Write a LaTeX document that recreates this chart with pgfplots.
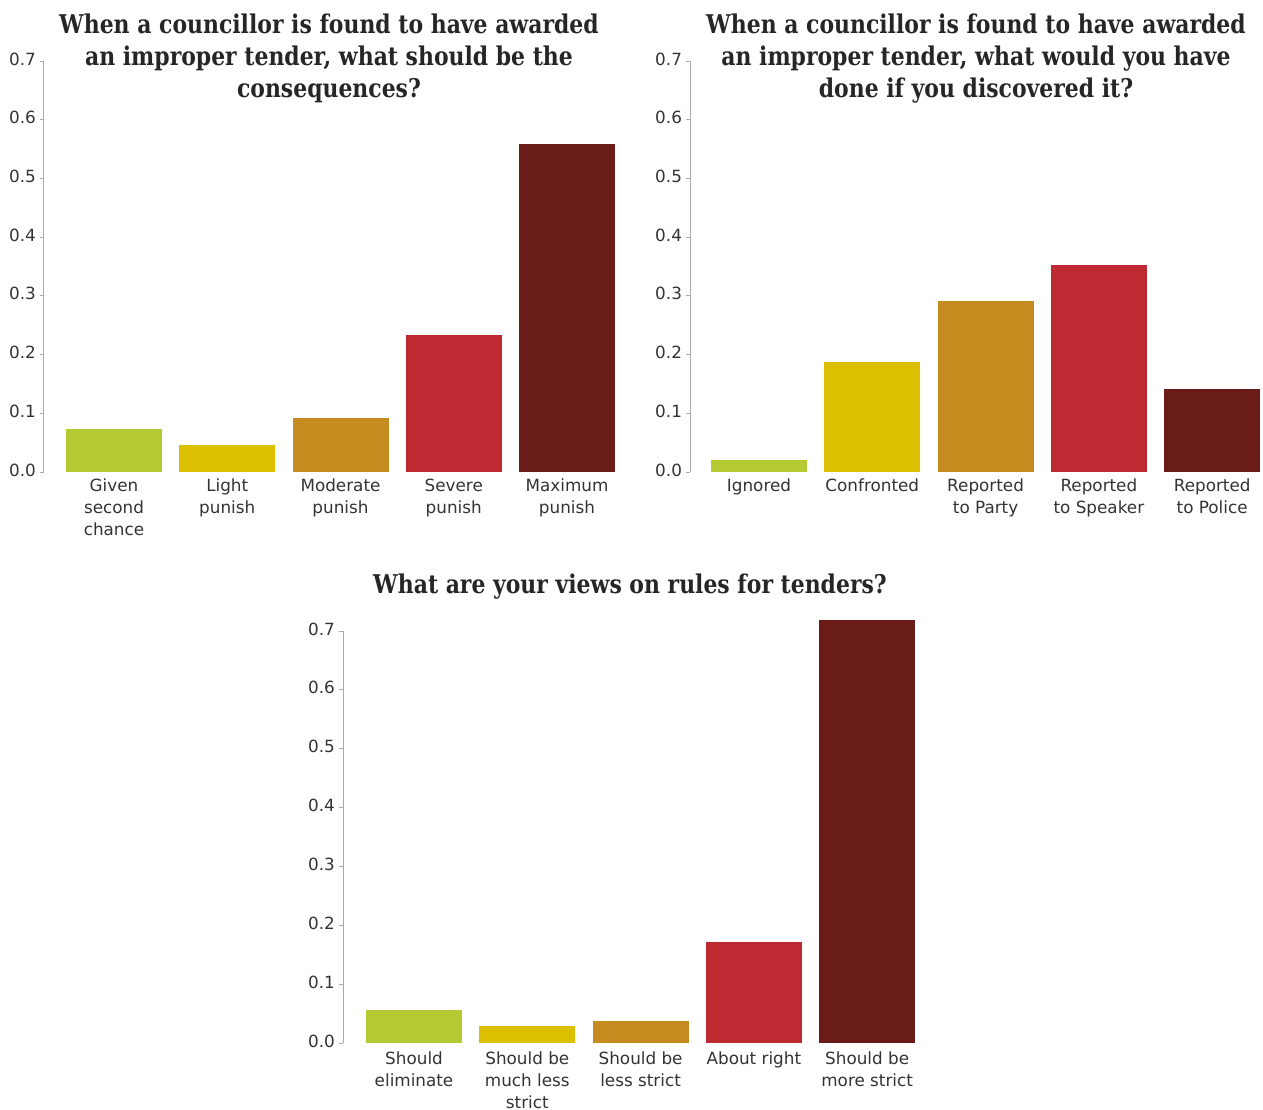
\documentclass[border=0pt]{standalone}
\usepackage{fontspec}
\setmainfont{DejaVu Sans}
\newfontfamily\titlefont[FakeStretch=0.85]{DejaVu Serif}
\usepackage{pgfplots}
\pgfplotsset{compat=1.18}
\definecolor{cg}{HTML}{B5C932}
\definecolor{cy}{HTML}{DBBF00}
\definecolor{co}{HTML}{C68C20}
\definecolor{cr}{HTML}{BE2A32}
\definecolor{cd}{HTML}{6A1C18}
\definecolor{txt}{HTML}{333333}
\definecolor{axg}{HTML}{AAAAAA}
\pgfplotsset{base/.style={
  scale only axis, anchor=south west, clip=false,
  ymin=0, ymax=0.7, ytick={0,0.1,0.2,0.3,0.4,0.5,0.6,0.7},
  axis lines=left, axis line style={-},
  x axis line style={draw=none},
  y axis line style={draw=axg, line width=0.5pt},
  xtick={0,1,2,3,4}, xtick style={draw=none},
  ytick style={draw=axg, line width=0.5pt},
  tick align=outside, major tick length=2pt,
  /pgf/number format/assume math mode=true,
  typeset ticklabels with strut,
  yticklabel style={/pgf/number format/.cd, fixed, fixed zerofill, precision=1, /tikz/.cd,
     font=\fontsize{8.4}{10}\selectfont, text=txt, xshift=1.5pt},
  xticklabel style={align=center, font=\fontsize{8.4}{11}\selectfont, text=txt, inner sep=1pt, yshift=1pt},
  ybar, bar shift=0pt, bar width=48pt,
  every axis plot/.append style={draw=none},
}}
\begin{document}
\begin{tikzpicture}
\useasboundingbox (0,0) rectangle (631.5pt,-554.5pt);
\begin{axis}[base, at={(22pt,-236pt)}, width=296.5pt, height=205.5pt,
  xmin=-0.618, xmax=4.618,
  xticklabels={{Given\\second\\chance},{Light\\punish},{Moderate\\punish},{Severe\\punish},{Maximum\\punish}}]
\addplot[fill=cg] coordinates {(0,0.073)};
\addplot[fill=cy] coordinates {(1,0.046)};
\addplot[fill=co] coordinates {(2,0.092)};
\addplot[fill=cr] coordinates {(3,0.233)};
\addplot[fill=cd] coordinates {(4,0.559)};
\end{axis}
\begin{axis}[base, at={(345pt,-236pt)}, width=289.4pt, height=205.5pt,
  xmin=-0.609, xmax=4.5,
  xticklabels={{Ignored},{Confronted},{Reported\\to Party},{Reported\\to Speaker},{Reported\\to Police}}]
\addplot[fill=cg] coordinates {(0,0.020)};
\addplot[fill=cy] coordinates {(1,0.187)};
\addplot[fill=co] coordinates {(2,0.291)};
\addplot[fill=cr] coordinates {(3,0.353)};
\addplot[fill=cd] coordinates {(4,0.141)};
\end{axis}
\begin{axis}[base, at={(171.5pt,-521.5pt)}, width=297.6pt, height=206pt,
  xmin=-0.627, xmax=4.627,
  xticklabel style={yshift=-1pt},
  xticklabels={{Should\\eliminate},{Should be\\much less\\strict},{Should be\\less strict},{About right},{Should be\\more strict}}]
\addplot[fill=cg] coordinates {(0,0.056)};
\addplot[fill=cy] coordinates {(1,0.029)};
\addplot[fill=co] coordinates {(2,0.037)};
\addplot[fill=cr] coordinates {(3,0.172)};
\addplot[fill=cd] coordinates {(4,0.719)};
\end{axis}
\begin{scope}[every node/.style={align=center, text=black!85, font=\titlefont\bfseries\fontsize{12.9}{16}\selectfont, anchor=base, inner sep=0pt}]
\node at (164.5pt,-48.5pt) {When a councillor is found to have awarded\\an improper tender, what should be the\\consequences?};
\node at (488pt,-48.5pt) {When a councillor is found to have awarded\\an improper tender, what would you have\\done if you discovered it?};
\node at (315pt,-296.5pt) {What are your views on rules for tenders?};
\end{scope}
\end{tikzpicture}
\end{document}
